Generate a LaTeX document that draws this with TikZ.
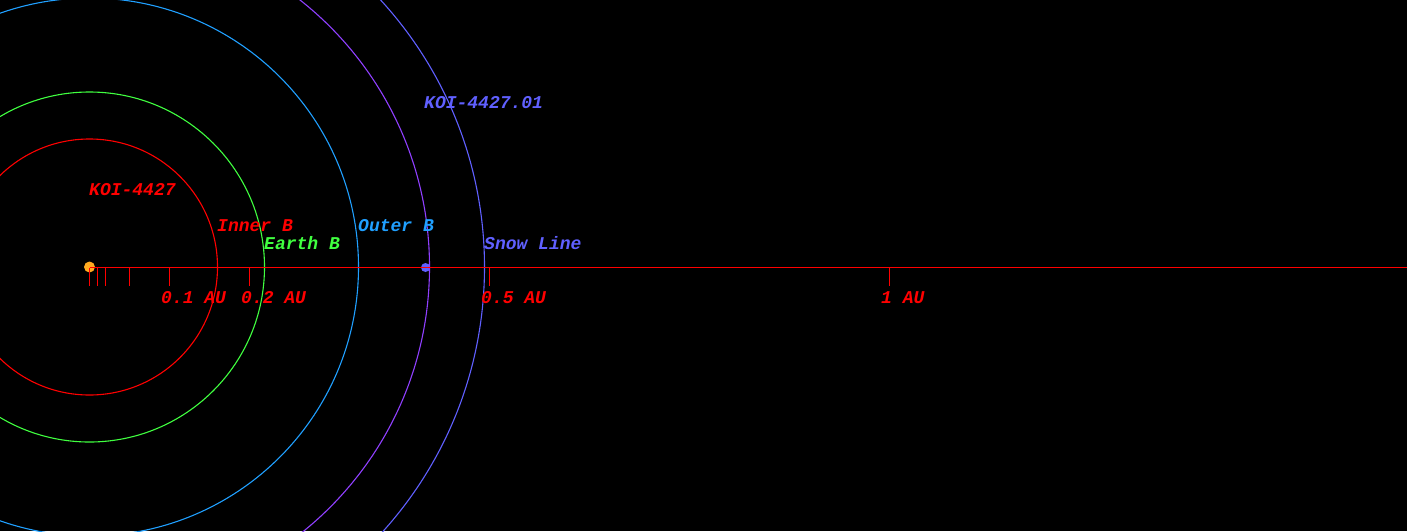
\documentclass[tikz,border=0pt]{standalone}
\usepackage{fontspec}
\setmonofont{Liberation Mono}
\usetikzlibrary{positioning}
\definecolor{orbred}{RGB}{255,0,0}
\definecolor{orbgreen}{RGB}{64,255,64}
\definecolor{orbblue}{RGB}{32,160,255}
\definecolor{orbpurple}{RGB}{144,64,255}
\definecolor{snowblue}{RGB}{96,96,255}
\definecolor{starorange}{RGB}{255,170,32}
\tikzset{
    % Define style for text labels
    lbl/.style={
           anchor=base west,
           inner sep=0pt,
           font=\ttfamily\bfseries\itshape\fontsize{18}{20}\selectfont},
    % Define style for orbits
    orbit/.style={line width=1.1pt},
    % Define style for the distance axis
    axisline/.style={draw=orbred, line width=1.6pt},
    % Define style for bodies
    stardot/.style={circle,fill=starorange,inner sep=0pt,minimum size=11pt},
    planetdot/.style={circle,fill=snowblue,inner sep=0pt,minimum size=9pt}
}

\begin{document}
\begin{tikzpicture}[x=1pt,y=-1pt]
  \fill[black] (0,0) rectangle (1407,531);
  \useasboundingbox (0,0) rectangle (1407,531);
  \node[stardot] (star) at (89.5,267) {};
  \node[planetdot] (planet) at (425.5,267.5) {};
  % orbits
  \begin{scope}
    \clip (0,0) rectangle (1407,531);
    \draw[orbit,orbred] (star.center) circle[radius=128];
    \draw[orbit,orbgreen] (star.center) circle[radius=175];
    \draw[orbit,orbblue] (star.center) circle[radius=269];
    \draw[orbit,orbpurple] (star.center) circle[radius=340];
    \draw[orbit,snowblue] (star.center) circle[radius=395];
  \end{scope}
  % axis and ticks
  \coordinate (axisorigin) at (89.5,267.5);
  \coordinate (axisend) at (1407,267.5);
  \draw[axisline] (axisorigin) -- (axisend);
  \foreach \d in {0,0.01,0.02,0.05,0.1,0.2,0.5,1}
    \draw[axisline] (89.5+800*\d,267.5) -- ++(0,18.5);
  \foreach \d in {0.1,0.2,0.5,1}
    \node[lbl,orbred] (au\d) at (81+800*\d,303) {\d\ AU};
  % labels
  \node[lbl,orbred] (starname) at (89,195) {KOI-4427};
  \node[lbl,orbred] (innerb) at (217,231) {Inner B};
  \node[lbl,orbgreen] (earthb) at (264,249) {Earth B};
  \node[lbl,orbblue] (outerb) at (358,231) {Outer B};
  \node[lbl,snowblue] (snowline) at (484,249) {Snow Line};
  \node[lbl,snowblue] (planetname) at (424,108) {KOI-4427.01};
\end{tikzpicture}
\end{document}
